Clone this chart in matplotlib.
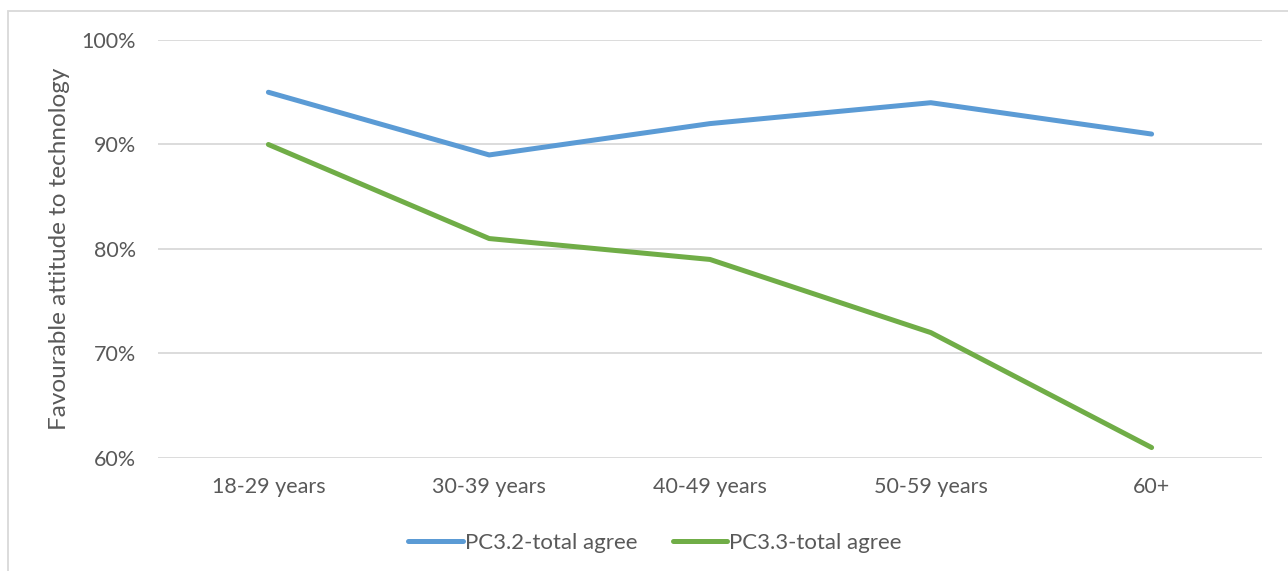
import matplotlib
matplotlib.use("Agg")
import matplotlib.pyplot as plt
from matplotlib.patches import Rectangle
from matplotlib.ticker import FuncFormatter

categories = ["18-29 years", "30-39 years", "40-49 years", "50-59 years", "60+"]
pc32 = [95, 89, 92, 94, 91]
pc33 = [90, 81, 79, 72, 61]
yticks = [60, 70, 80, 90, 100]

plt.rcParams['font.family'] = ['Lato', 'DejaVu Sans']
txt = '#595959'

fig = plt.figure(figsize=(12.88, 5.71), dpi=100)
ax = fig.add_axes([158/1288, 1-458/571, (1262-158)/1288, (458-40)/571])

x = list(range(len(categories)))
ax.plot(x, pc32, color='#5B9BD5', lw=3.6, solid_capstyle='round', label='PC3.2-total agree', zorder=3)
ax.plot(x, pc33, color='#70AD47', lw=3.6, solid_capstyle='round', label='PC3.3-total agree', zorder=3)

ax.set_xlim(-0.5, len(categories) - 0.5)
ax.set_ylim(60, 100)
ax.set_yticks(yticks)
ax.yaxis.set_major_formatter(FuncFormatter(lambda v, p: f"{int(v)}%"))
ax.set_xticks(x)
ax.set_xticklabels(categories)
ax.grid(axis='y', color='#D9D9D9', lw=1.3)
ax.set_axisbelow(True)
for s in ax.spines.values():
    s.set_visible(False)
ax.tick_params(length=0, labelsize=15.5, colors=txt)
ax.tick_params(axis='x', pad=14)
ax.tick_params(axis='y', pad=16)
ax.set_ylabel("Favourable attitude to technology", fontsize=17.5, color=txt, labelpad=8)

leg = fig.legend(loc='center', bbox_to_anchor=(655/1288, 1-543/571), ncol=2, frameon=False,
                 fontsize=16, handlelength=2.45, columnspacing=1.6, handletextpad=0.1)
for t in leg.get_texts():
    t.set_color(txt)

fig.patches.append(Rectangle((8/1288, -0.05), 1.0, 1-11/571+0.05, transform=fig.transFigure,
                             fill=False, edgecolor='#D9D9D9', lw=1.3))

fig.savefig("out.png", dpi=100)
